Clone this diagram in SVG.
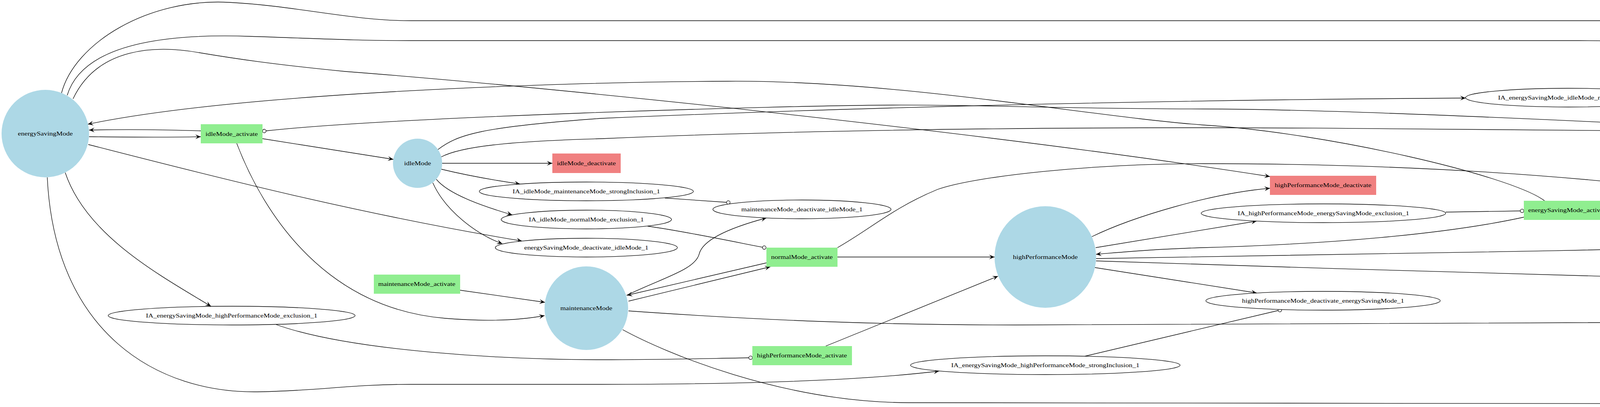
<svg xmlns="http://www.w3.org/2000/svg" width="6131" height="1042" viewBox="0 0 6131 1042">
<style>
.e{fill:none;stroke:#000;stroke-width:1.3}
.v{marker-end:url(#vee)}
.o{marker-end:url(#odot)}
.c{fill:#ADD8E6}
.g{fill:#90EE90}
.r{fill:#F08080}
.l{fill:#fff;stroke:#000;stroke-width:1.3}
text{font-family:"Liberation Serif","Times New Roman",serif;font-size:15px;fill:#000;text-anchor:middle;transform-box:fill-box;transform-origin:center;transform:scaleX(1.2)}
</style>
<defs>
<marker id="vee" viewBox="-15 -7 16 14" refX="0" refY="0" markerWidth="16" markerHeight="14" orient="auto" markerUnits="userSpaceOnUse" overflow="visible"><path d="M0,0 L-14,-6 L-8,0 L-14,6 Z" fill="#000"/></marker>
<marker id="odot" viewBox="-1 -6 12 12" refX="0" refY="0" markerWidth="12" markerHeight="12" orient="auto" markerUnits="userSpaceOnUse" overflow="visible"><circle cx="4.5" cy="0" r="4.5" fill="#fff" stroke="#000" stroke-width="1.3"/></marker>
</defs>
<rect width="6131" height="1042" fill="#fff"/>
<g id="connectors">
<path class="e v" d="M157,240 C190,110 380,-5 586,6 C760,15 900,53 1051,53 L4620,53 C5000,53 5450,140 5789,233"/>
<path class="e v" d="M172,244 C210,120 400,85 638,93 C800,98 900,104 1051,104 L4042,104 C4350,104 4600,135 5161,227"/>
<path class="e v" d="M187,253 C250,120 400,115 511,135 C600,150 700,165 884,183 C1500,230 2600,350 3251,452"/>
<path class="e v" d="M3954,514 C3870,450 3400,340 3080,320 C2800,300 2300,205 1864,208 C1400,210 600,240 225,318"/>
<path class="e v" d="M514,335 C420,332 320,331 228,333"/>
<path class="e v" d="M228,350 C320,351 420,352 514,350"/>
<path class="e v" d="M672,355 L1007,408"/>
<path class="e v" d="M606,367 C680,560 840,790 1140,815 C1250,824 1330,820 1394,808"/>
<path class="e v" d="M226,370 C500,440 900,545 1336,617"/>
<path class="e v" d="M121,454 C140,850 400,1010 668,1003 C820,1000 900,984 1051,984 L1540,984 C1900,984 2200,975 2404,950"/>
<path class="e v" d="M167,442 C220,600 400,700 540,784"/>
<path class="e v" d="M1132,418 L1414,418"/>
<path class="e v" d="M1129,433 Q1220,455 1331,471"/>
<path class="e v" d="M1117,459 C1150,500 1250,532 1311,550"/>
<path class="e v" d="M1108,468 C1140,540 1220,600 1286,624"/>
<path class="e v" d="M1178,743 L1395,774"/>
<path class="e o" d="M707,831 C900,900 1300,921 1540,921 C1700,921 1800,918 1917,916"/>
<path class="e v" d="M1604,756 C1700,710 1780,690 1790,650 C1800,610 1880,580 1962,558"/>
<path class="e v" d="M1962,673 L1605,756"/>
<path class="e v" d="M1609,771 L1972,683"/>
<path class="e o" d="M1658,579 C1750,592 1860,615 1952,633"/>
<path class="e v" d="M2144,634 C2230,585 2290,530 2400,485 C2500,450 2800,419 3080,419 C3600,419 4100,450 4553,518"/>
<path class="e v" d="M2144,658 L2546,658"/>
<path class="e v" d="M2114,886 L2555,707"/>
<path class="e v" d="M1609,796 C1950,820 2250,832 2600,832 C3500,831 4400,830 5039,822"/>
<path class="e v" d="M1594,844 C1700,902 2000,1030 2326,1031 L4700,1034 C5100,1034 5350,1000 5520,920 C5680,840 5790,700 5854,553"/>
<path class="e o" d="M2777,912 L3272,795"/>
<path class="e v" d="M2795,606 C2900,555 3100,495 3251,482"/>
<path class="e v" d="M2805,634 L3217,566"/>
<path class="e v" d="M3901,556 C3700,600 3400,625 3080,634 C2950,638 2880,645 2806,651"/>
<path class="e v" d="M2806,662 C3500,655 4500,630 5184,615"/>
<path class="e v" d="M2806,668 C3300,685 3900,702 4335,714"/>
<path class="e v" d="M2803,685 L3217,750"/>
<path class="e o" d="M3701,543 L3892,540"/>
<path class="e v" d="M4129,536 L4555,530"/>
<path class="e o" d="M4278,250 L5152,250"/>
<path class="e v" d="M1121,383 C1170,345 1230,325 1540,303 C2300,270 3100,255 3752,251"/>
<path class="e o" d="M5093,366 C4600,335 3500,279 3080,279 C2700,278 2500,268 2286,269 C2000,270 1000,300 681,335"/>
<path class="e v" d="M1129,402 C1180,375 1300,362 1540,355 C2000,335 2500,327 3080,327 C3700,327 4300,342 5010,342 C5150,342 5250,310 5361,310 C5500,310 5650,330 5844,504"/>
<path class="e v" d="M4705,490 C4800,430 4990,330 5186,275"/>
<path class="e v" d="M4712,502 C4800,460 4950,415 5132,395"/>
<path class="e v" d="M4715,518 L5106,476"/>
<path class="e o" d="M5478,439 C5600,395 5720,350 5827,287"/>
<path class="e v" d="M4715,528 L5008,528"/>
<path class="e o" d="M5558,528 L5746,528"/>
<path class="e v" d="M4715,539 L5184,599"/>
<path class="e v" d="M4709,554 C4820,590 4980,640 5151,684"/>
<path class="e v" d="M4712,558 C4860,620 4930,670 4975,725 C5010,770 5080,778 5142,800"/>
<path class="e o" d="M4931,713 L5013,711"/>
<path class="e o" d="M1702,507 L1860,518"/>
</g>
<g id="n-energySavingMode"><circle class="c" cx="116" cy="342" r="112"/><text x="116" y="347">energySavingMode</text></g>
<g id="n-idleMode_activate"><rect class="g" x="514" y="318" width="158" height="49"/><text x="593" y="348">idleMode_activate</text></g>
<g id="n-idleMode"><circle class="c" cx="1069" cy="418" r="63"/><text x="1069" y="423">idleMode</text></g>
<g id="n-idleMode_deactivate"><rect class="r" x="1414" y="393" width="175" height="50"/><text x="1501" y="423">idleMode_deactivate</text></g>
<g id="n-IA_idleMode_maintenanceMode_strongInclusion_1"><ellipse class="l" cx="1501" cy="490" rx="274" ry="24"/><text x="1501" y="495">IA_idleMode_maintenanceMode_strongInclusion_1</text></g>
<g id="n-IA_idleMode_normalMode_exclusion_1"><ellipse class="l" cx="1501" cy="562" rx="218" ry="24"/><text x="1501" y="567">IA_idleMode_normalMode_exclusion_1</text></g>
<g id="n-energySavingMode_deactivate_idleMode_1"><ellipse class="l" cx="1501" cy="634" rx="233" ry="24"/><text x="1501" y="639">energySavingMode_deactivate_idleMode_1</text></g>
<g id="n-maintenanceMode_activate"><rect class="g" x="957" y="703" width="221" height="49"/><text x="1067" y="732">maintenanceMode_activate</text></g>
<g id="n-maintenanceMode"><circle class="c" cx="1501" cy="789" r="107"/><text x="1501" y="794">maintenanceMode</text></g>
<g id="n-IA_energySavingMode_highPerformanceMode_exclusion_1"><ellipse class="l" cx="593" cy="808" rx="316" ry="24"/><text x="593" y="813">IA_energySavingMode_highPerformanceMode_exclusion_1</text></g>
<g id="n-maintenanceMode_deactivate_idleMode_1"><ellipse class="l" cx="2053" cy="536" rx="228" ry="24"/><text x="2053" y="541">maintenanceMode_deactivate_idleMode_1</text></g>
<g id="n-normalMode_activate"><rect class="g" x="1962" y="634" width="182" height="49"/><text x="2053" y="663">normalMode_activate</text></g>
<g id="n-highPerformanceMode"><circle class="c" cx="2676" cy="658" r="130"/><text x="2676" y="663">highPerformanceMode</text></g>
<g id="n-highPerformanceMode_activate"><rect class="g" x="1926" y="886" width="255" height="49"/><text x="2053" y="915">highPerformanceMode_activate</text></g>
<g id="n-IA_energySavingMode_highPerformanceMode_strongInclusion_1"><ellipse class="l" cx="2676" cy="935" rx="345" ry="24"/><text x="2676" y="940">IA_energySavingMode_highPerformanceMode_strongInclusion_1</text></g>
<g id="n-IA_energySavingMode_idleMode_requirement_1"><ellipse class="l" cx="4015" cy="250" rx="263" ry="24"/><text x="4015" y="255">IA_energySavingMode_idleMode_requirement_1</text></g>
<g id="n-highPerformanceMode_deactivate"><rect class="r" x="3251" y="450" width="272" height="49"/><text x="3387" y="479">highPerformanceMode_deactivate</text></g>
<g id="n-energySavingMode_activate"><rect class="g" x="3901" y="514" width="228" height="49"/><text x="4015" y="543">energySavingMode_activate</text></g>
<g id="n-IA_highPerformanceMode_energySavingMode_exclusion_1"><ellipse class="l" cx="3388" cy="546" rx="313" ry="24"/><text x="3388" y="551">IA_highPerformanceMode_energySavingMode_exclusion_1</text></g>
<g id="n-highPerformanceMode_deactivate_energySavingMode_1"><ellipse class="l" cx="3387" cy="770" rx="300" ry="24"/><text x="3387" y="775">highPerformanceMode_deactivate_energySavingMode_1</text></g>
<g id="n-normalMode"><circle class="c" cx="4635" cy="528" r="80"/><text x="4635" y="533">normalMode</text></g>
<g id="n-IA_normalMode_highPerformanceMode_weakInclusion_1"><ellipse class="l" cx="4634" cy="720" rx="310" ry="24"/><text x="4634" y="725">IA_normalMode_highPerformanceMode_weakInclusion_1</text></g>
<g id="n-energySavingMode_deactivate"><rect class="r" x="5161" y="226" width="246" height="49"/><text x="5284" y="255">energySavingMode_deactivate</text></g>
<g id="n-energySavingMode_deactivate_normalMode_1"><ellipse class="l" cx="5874" cy="256" rx="250" ry="24"/><text x="5874" y="261">energySavingMode_deactivate_normalMode_1</text></g>
<g id="n-IA_normalMode_idleMode_exclusion_1"><ellipse class="l" cx="5284" cy="378" rx="217" ry="24"/><text x="5284" y="383">IA_normalMode_idleMode_exclusion_1</text></g>
<g id="n-IA_energySavingMode_normalMode_weakInclusion_1"><ellipse class="l" cx="5284" cy="457" rx="292" ry="24"/><text x="5284" y="462">IA_energySavingMode_normalMode_weakInclusion_1</text></g>
<g id="n-IA_maintenanceMode_normalMode_requirement_1"><ellipse class="l" cx="5283" cy="528" rx="275" ry="24"/><text x="5283" y="533">IA_maintenanceMode_normalMode_requirement_1</text></g>
<g id="n-maintenanceMode_deactivate"><rect class="r" x="5755" y="504" width="239" height="49"/><text x="5874" y="533">maintenanceMode_deactivate</text></g>
<g id="n-normalMode_deactivate"><rect class="r" x="5184" y="587" width="200" height="49"/><text x="5284" y="616">normalMode_deactivate</text></g>
<g id="n-normalMode_deactivate_highPerformanceMode_1"><ellipse class="l" cx="5283" cy="705" rx="268" ry="24"/><text x="5283" y="710">normalMode_deactivate_highPerformanceMode_1</text></g>
<g id="n-maintenanceMode_deactivate_normalMode_1"><ellipse class="l" cx="5284" cy="820" rx="245" ry="24"/><text x="5284" y="825">maintenanceMode_deactivate_normalMode_1</text></g>
</svg>
